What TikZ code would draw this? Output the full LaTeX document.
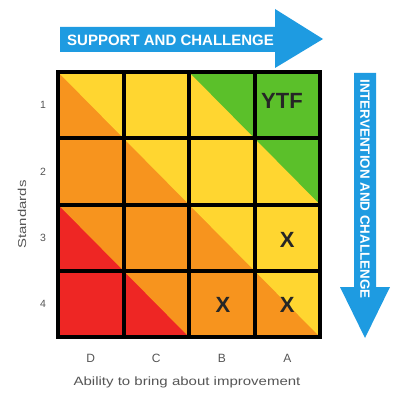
\documentclass[tikz,border=0pt]{standalone}
\usepackage{fontspec}
\setmainfont{Liberation Sans}

\definecolor{grnband}{HTML}{5BC02A}
\definecolor{ylwband}{HTML}{FFD630}
\definecolor{orgband}{HTML}{F7941E}
\definecolor{redband}{HTML}{EE2624}
\definecolor{arrowblue}{HTML}{1E9BE1}
\definecolor{labelgrey}{HTML}{555555}

\tikzset{
    gridline/.style={line width=4pt, line cap=rect},
    bannertext/.style={text=white, inner sep=0pt, font=\bfseries\fontsize{15}{17}\selectfont},
    sidetext/.style={text=white, inner sep=0pt, font=\bfseries\fontsize{13.4}{15}\selectfont},
    axislabel/.style={text=labelgrey, inner sep=0pt, font=\fontsize{10.5}{12}\selectfont},
    celltext/.style={text=black!85, inner sep=0pt, font=\bfseries\fontsize{22}{24}\selectfont}
}

\begin{document}
\begin{tikzpicture}[x=1pt, y=-1pt]
    \useasboundingbox (0, 0) rectangle (392, 393);

    \fill[arrowblue] (60, 27) -- (275, 27) -- (275, 9) -- (323, 39) -- (275, 68) -- (275, 52) -- (60, 52) -- cycle;
    \node[bannertext, anchor=west] at (67, 40)(support){SUPPORT AND CHALLENGE};

    \fill[arrowblue] (354, 73) -- (376, 73) -- (376, 287) -- (390, 287) -- (365, 338) -- (340, 287) -- (354, 287) -- cycle;
    \node[sidetext, rotate=-90] at (365, 189)(intervention){INTERVENTION AND CHALLENGE};

    \begin{scope}[shift={(58, 72)}, x=65.5pt, y=-66.25pt]
        \fill[redband] (0, 0) rectangle (4, 4);
        \fill[orgband] (0, 0) -- (4, 0) -- (4, 4) -- (2, 4) -- (0, 2) -- cycle;
        \fill[ylwband] (0, 0) -- (4, 0) -- (4, 4) -- cycle;
        \fill[grnband] (2, 0) -- (4, 0) -- (4, 2) -- cycle;

        \draw[gridline] (0, 0) to (0, 4);
        \draw[gridline] (1, 0) to (1, 4);
        \draw[gridline] (2, 0) to (2, 4);
        \draw[gridline] (3, 0) to (3, 4);
        \draw[gridline] (4, 0) to (4, 4);
            \draw[gridline] (0, 0) to (4, 0);
            \draw[gridline] (0, 1) to (4, 1);
            \draw[gridline] (0, 2) to (4, 2);
            \draw[gridline] (0, 3) to (4, 3);
            \draw[gridline] (0, 4) to (4, 4);

        \node[celltext] at (3.42, 0.43)(ytf){YTF};
        \node[celltext] at (3.5, 2.54)(xa3){X};
        \node[celltext] at (2.52, 3.52)(xb4){X};
        \node[celltext] at (3.5, 3.52)(xa4){X};

        \node[axislabel] at (-0.23, 0.5)(r1){1};
        \node[axislabel] at (-0.23, 1.5)(r2){2};
        \node[axislabel] at (-0.23, 2.5)(r3){3};
        \node[axislabel] at (-0.23, 3.5)(r4){4};

        \node[axislabel, font=\fontsize{12}{14}\selectfont] at (0.5, 4.33)(cd){D};
        \node[axislabel, font=\fontsize{12}{14}\selectfont] at (1.5, 4.33)(cc){C};
        \node[axislabel, font=\fontsize{12}{14}\selectfont] at (2.5, 4.33)(cb){B};
        \node[axislabel, font=\fontsize{12}{14}\selectfont] at (3.5, 4.33)(ca){A};

        \node[axislabel, font=\fontsize{12}{14}\selectfont] at (1.97, 4.68)(ability){\scalebox{1.25}[1]{Ability to bring about improvement}};
        \node[axislabel, font=\fontsize{11.5}{14}\selectfont, rotate=90] at (-0.55, 2.15)(standards){\scalebox{1.3}[1]{Standards}};
    \end{scope}
\end{tikzpicture}
\end{document}
